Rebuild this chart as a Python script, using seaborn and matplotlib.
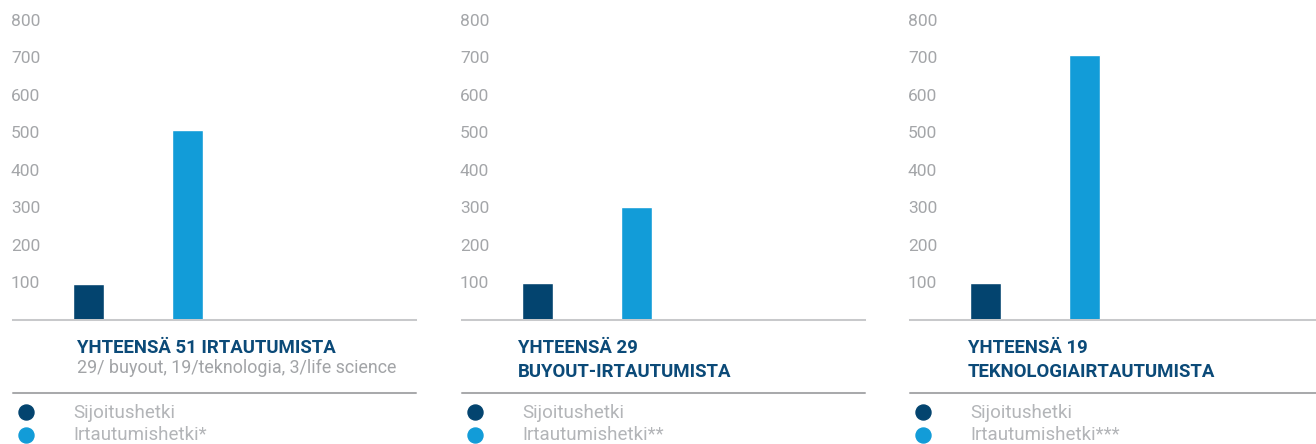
import matplotlib
matplotlib.use("Agg")
import matplotlib.pyplot as plt
from matplotlib.lines import Line2D
import pandas as pd
import seaborn as sns

# Holding periods (index values) at investment and at exit
phases = ["Sijoitushetki", "Irtautumishetki"]
all_exits = [94, 505]
buyout_exits = [97, 300]
tech_exits = [97, 705]

panel_values = [all_exits, buyout_exits, tech_exits]
panel_titles = [
    ["YHTEENSÄ 51 IRTAUTUMISTA"],
    ["YHTEENSÄ 29", "BUYOUT-IRTAUTUMISTA"],
    ["YHTEENSÄ 19", "TEKNOLOGIAIRTAUTUMISTA"],
]
panel_subtitles = ["29/ buyout, 19/teknologia, 3/life science", None, None]
legend_labels = [
    ["Sijoitushetki", "Irtautumishetki*"],
    ["Sijoitushetki", "Irtautumishetki**"],
    ["Sijoitushetki", "Irtautumishetki***"],
]
y_ticks = [100, 200, 300, 400, 500, 600, 700, 800]

DARK = "#03446f"
LIGHT = "#129cd8"
TITLE_BLUE = "#0b4a78"
TICK_GREY = "#a4a6a9"
TEXT_GREY = "#a2a4a7"
LEGEND_GREY = "#b3b5b8"
AXIS_GREY = "#c8c9cb"
RULE_GREY = "#a9aaac"

sns.set_theme(style="white")
plt.rcParams["font.family"] = ["Roboto", "DejaVu Sans"]

W, H = 1316, 444
fig = plt.figure(figsize=(W / 100, H / 100), dpi=100)


def fx(x):
    return x / W


def fy(y):
    return 1 - y / H


panel_left = [13, 462, 910]
panel_width = [403, 403, 406]
title_offset = [64, 56, 58]
baseline_px = 319.5
top_px = 19.5
bar_step = 99.0       # pixel distance between the two bar centres
first_center = 75.5   # first bar centre, from panel left edge

for i, vals in enumerate(panel_values):
    x0, w = panel_left[i], panel_width[i]
    ax = fig.add_axes([fx(x0), fy(baseline_px), w / W, (baseline_px - top_px) / H])
    df = pd.DataFrame({"phase": phases, "value": vals})
    sns.barplot(data=df, x="phase", y="value", hue="phase", order=phases,
                hue_order=phases, palette=[DARK, LIGHT], width=31 / bar_step,
                saturation=1, legend=False, ax=ax)
    ax.set_xlim(-first_center / bar_step, (w - first_center) / bar_step)
    ax.set_ylim(0, 800)
    ax.set_xticks([])
    ax.set_xlabel("")
    ax.set_ylabel("")
    ax.set_yticks(y_ticks)
    ax.set_yticklabels([str(t) for t in y_ticks])
    ax.tick_params(axis="y", length=0, pad=1.5, labelsize=12.5,
                   labelcolor=TICK_GREY)
    for lbl in ax.get_yticklabels():
        lbl.set_horizontalalignment("left")
    for s in ["top", "right", "left"]:
        ax.spines[s].set_visible(False)
    ax.spines["bottom"].set_color(AXIS_GREY)
    ax.spines["bottom"].set_linewidth(1.45)
    ax.set_facecolor("none")

    # Title block under the chart
    tx = x0 + title_offset[i]
    for j, line in enumerate(panel_titles[i]):
        fig.text(fx(tx), fy(352.5 + 24.5 * j), line, color=TITLE_BLUE,
                 fontsize=13.4, fontweight="bold", va="baseline", ha="left")
    if panel_subtitles[i]:
        fig.text(fx(tx), fy(373.3), panel_subtitles[i], color=TEXT_GREY,
                 fontsize=12.9, va="baseline", ha="left")

    # Rule above the legend
    fig.add_artist(Line2D([fx(x0), fx(x0 + w)], [fy(393.3), fy(393.3)],
                          color=RULE_GREY, linewidth=1.45,
                          transform=fig.transFigure))

    # Legend: dots and labels
    for j, (color, label) in enumerate(zip([DARK, LIGHT], legend_labels[i])):
        cy = 411.7 + 22.8 * j
        fig.add_artist(Line2D([fx(x0 + 12.7)], [fy(cy)], marker="o",
                              markersize=10.8, color=color, linestyle="none",
                              transform=fig.transFigure))
        fig.text(fx(x0 + 60), fy(417.7 + 22.5 * j), label, color=LEGEND_GREY,
                 fontsize=13.5, va="baseline", ha="left")

fig.savefig("out.png", dpi=100)
